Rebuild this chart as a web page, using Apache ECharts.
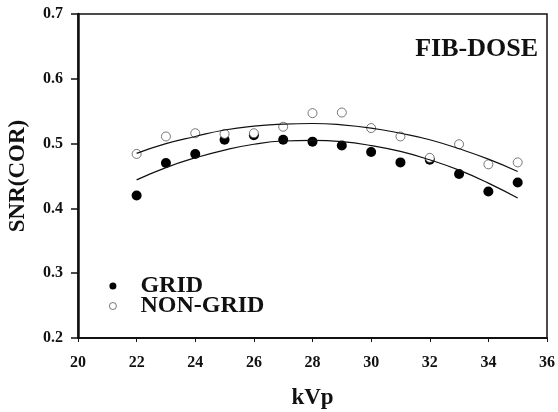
<!DOCTYPE html>
<html>
<head>
<meta charset="utf-8">
<script src="https://cdn.jsdelivr.net/npm/echarts@6/dist/echarts.min.js"></script>
<style>
  html, body { margin: 0; padding: 0; background: #fff; }
  #chart { width: 558px; height: 412px; }
</style>
</head>
<body>
<div id="chart"></div>
<script>
// 数据
const kvp = [22, 23, 24, 25, 26, 27, 28, 29, 30, 31, 32, 33, 34, 35];
const gridSnr = [0.420, 0.470, 0.484, 0.506, 0.513, 0.506, 0.503, 0.497, 0.487, 0.471, 0.475, 0.453, 0.426, 0.440];
const nonGridSnr = [0.484, 0.511, 0.516, 0.515, 0.516, 0.526, 0.547, 0.548, 0.524, 0.511, 0.478, 0.499, 0.468, 0.471];
// 趋势线
const gridFit = [0.444, 0.463, 0.478, 0.490, 0.499, 0.504, 0.505, 0.503, 0.497, 0.488, 0.475, 0.459, 0.439, 0.416];
const nonGridFit = [0.485, 0.500, 0.511, 0.521, 0.527, 0.530, 0.531, 0.529, 0.524, 0.516, 0.506, 0.492, 0.476, 0.457];
const xTicks = [20, 22, 24, 26, 28, 30, 32, 34, 36];

const pairs = (xs, ys) => xs.map((x, i) => [x, ys[i]]);
const font = '"Liberation Serif", "Times New Roman", serif';

const chart = echarts.init(document.getElementById('chart'));

const option = {
  animation: false,
  textStyle: { fontFamily: font },
  title: {
    text: 'FIB-DOSE',
    right: 15,
    top: 31,
    textStyle: { fontFamily: font, fontSize: 26, fontWeight: 'bold', color: '#111' }
  },
  legend: {
    orient: 'vertical',
    left: 104,
    top: 269,
    itemGap: -4,
    itemWidth: 7,
    itemHeight: 7,
    data: [
      { name: 'GRID' },
      { name: 'NON-GRID', itemStyle: { borderWidth: 0.8, borderColor: '#555' } }
    ],
    textStyle: { fontFamily: font, fontSize: 24, fontWeight: 'bold', color: '#111', padding: [0, 0, 0, 19] }
  },
  grid: {
    left: 78,
    right: 11,
    top: 14,
    bottom: 74,
    outerBoundsMode: 'none',
    show: true,
    borderColor: '#111',
    borderWidth: 1.5
  },
  xAxis: {
    type: 'value',
    min: 20,
    max: 36,
    interval: 2,
    name: 'kVp',
    nameLocation: 'middle',
    nameGap: 49,
    nameTextStyle: { fontFamily: font, fontSize: 23, fontWeight: 'bold', color: '#111' },
    axisLine: { lineStyle: { color: '#111', width: 2 } },
    axisTick: { length: 4, lineStyle: { color: '#111', width: 1 } },
    axisLabel: {
      margin: 17,
      fontFamily: font, fontSize: 16, fontWeight: 'bold', color: '#111',
      formatter: v => xTicks.includes(v) ? String(v) : ''
    },
    splitLine: { show: false }
  },
  yAxis: {
    type: 'value',
    min: 0.2,
    max: 0.7,
    interval: 0.1,
    name: 'SNR(COR)',
    nameLocation: 'middle',
    nameGap: 48,
    nameTextStyle: { fontFamily: font, fontSize: 23, fontWeight: 'bold', color: '#111' },
    axisLine: { lineStyle: { color: '#111', width: 2.5 } },
    axisTick: { length: 7, lineStyle: { color: '#111', width: 1.5 } },
    axisLabel: {
      margin: 15,
      fontFamily: font, fontSize: 16, fontWeight: 'bold', color: '#111',
      formatter: v => v.toFixed(1)
    },
    splitLine: { show: false }
  },
  series: [
    {
      name: 'GRID-fit',
      type: 'line',
      data: pairs(kvp, gridFit),
      smooth: true,
      symbol: 'none',
      lineStyle: { color: '#111', width: 1.2 },
      silent: true
    },
    {
      name: 'NON-GRID-fit',
      type: 'line',
      data: pairs(kvp, nonGridFit),
      smooth: true,
      symbol: 'none',
      lineStyle: { color: '#111', width: 1.2 },
      silent: true
    },
    {
      name: 'GRID',
      type: 'scatter',
      data: pairs(kvp, gridSnr),
      symbol: 'circle',
      symbolSize: 10,
      itemStyle: { color: '#000', opacity: 1 }
    },
    {
      name: 'NON-GRID',
      type: 'scatter',
      data: pairs(kvp, nonGridSnr),
      symbol: 'circle',
      symbolSize: 9,
      itemStyle: { color: '#fff', borderColor: '#555', borderWidth: 0.8, opacity: 1 }
    }
  ]
};

chart.setOption(option);
</script>
</body>
</html>
